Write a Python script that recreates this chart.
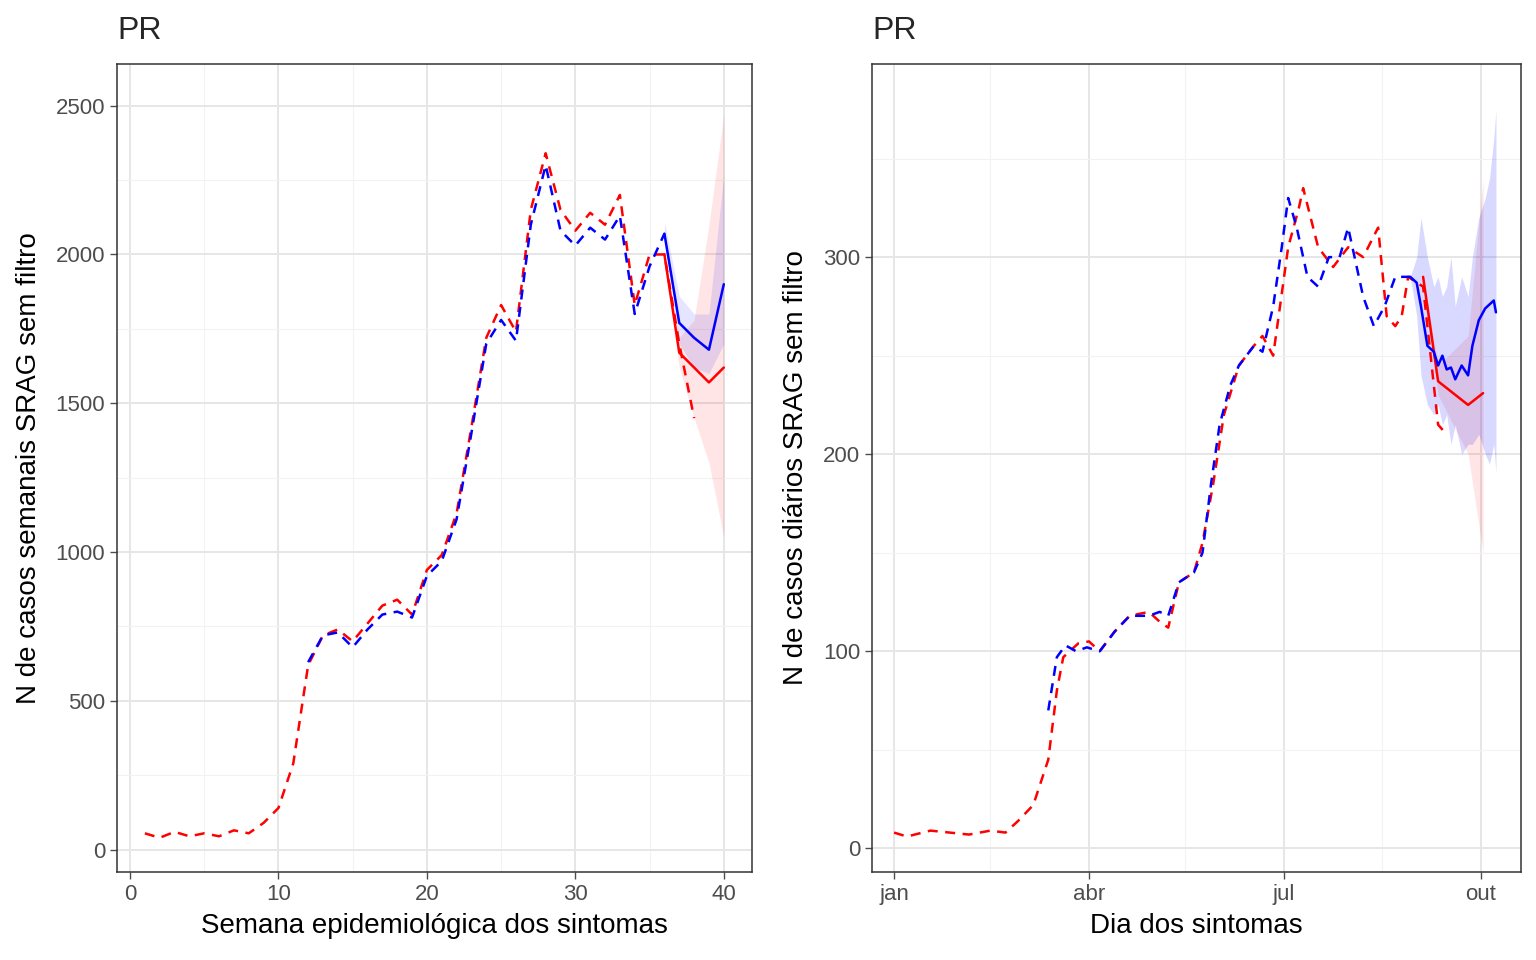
import numpy as np, pandas as pd, seaborn as sns, matplotlib
matplotlib.use("Agg")
import matplotlib.pyplot as plt

# ---- left panel (weekly) ----
red_dash_wk = list(range(1, 39))
red_dash_val = [55,40,60,45,55,45,65,55,90,140,290,620,720,740,700,760,820,840,790,940,990,1130,1420,1720,1830,1740,2150,2340,2150,2080,2140,2100,2200,1830,2000,2000,1700,1450]
blue_dash_wk = list(range(12, 37))
blue_dash_val = [630,720,730,680,740,790,800,780,920,970,1110,1400,1700,1780,1710,2100,2300,2080,2030,2090,2050,2130,1800,1960,2070]
now_wk = [36,37,38,39,40]
blue_now = [2070,1770,1720,1680,1900]
blue_lo = [2070,1700,1620,1600,1700]
blue_hi = [2110,1860,1800,1800,2270]
red_now = [2000,1670,1620,1570,1620]
red_lo = [2000,1620,1450,1300,1050]
red_hi = [2000,1720,1780,2100,2470]

# ---- right panel (daily, days since 2020-01-01) ----
r_red_dash_d = [0,6,17,26,35,45,52,58,65,72,76,79,86,91,96,103,110,119,124,128,133,140,144,149,154,161,168,172,177,184,189,191,198,205,212,219,226,230,234,237,240,247,254,258]
r_red_dash_v = [8,6,9,8,7,9,8,14,22,45,80,97,104,105,100,110,118,120,115,112,135,140,155,185,220,245,255,260,250,305,325,335,305,295,305,300,315,270,265,270,290,285,215,210]
r_blue_dash_d = [72,76,80,85,90,96,103,110,119,124,128,133,140,144,148,152,157,161,168,172,177,181,184,188,193,198,203,208,212,215,219,224,229,234,239,241]
r_blue_dash_v = [70,97,103,100,102,100,110,118,118,120,118,135,140,150,185,215,235,245,255,252,275,305,330,315,290,285,300,300,315,300,280,265,275,290,290,290]
r_blue_now_d = [241,244,246,249,252,254,256,258,260,262,265,268,270,273,276,278,280,281]
r_blue_now_v = [290,287,275,255,252,245,250,243,244,238,245,240,255,268,274,276,278,272]
r_blue_lo = [290,270,240,225,220,225,215,220,205,215,200,205,205,210,200,195,205,190]
r_blue_hi = [290,300,320,300,285,290,280,285,300,275,290,280,300,320,330,340,360,375]
r_red_now_d = [247,254,268,275]
r_red_now_v = [290,237,225,231]
r_red_lo = [290,230,200,150]
r_red_hi = [290,245,260,340]

sns.set_theme(style="whitegrid")
plt.rcParams['font.family'] = ['Liberation Sans', 'DejaVu Sans']
fig = plt.figure(figsize=(15.36, 9.6), dpi=100)
W, H = 1536, 960
ax1 = fig.add_axes([117/W, 1-872/H, (752-117)/W, (872-64)/H])
ax2 = fig.add_axes([872/W, 1-872/H, (1521-872)/W, (872-64)/H])

def style(ax):
    ax.set_facecolor("white")
    for s in ax.spines.values():
        s.set_color("#333333"); s.set_linewidth(1.1)
    ax.grid(True, which="major", color="#e6e6e6", lw=1.4)
    ax.grid(True, which="minor", color="#f2f2f2", lw=0.8)
    ax.tick_params(axis="both", which="major", labelsize=16, colors="#4d4d4d", length=5, width=1, bottom=True, left=True, direction="out")
    ax.tick_params(which="minor", length=0)

# left
sns.lineplot(x=red_dash_wk, y=red_dash_val, ax=ax1, color="red", lw=1.8, linestyle=(0,(4,3)))
sns.lineplot(x=blue_dash_wk, y=blue_dash_val, ax=ax1, color="blue", lw=1.8, linestyle=(0,(4,3)))
ax1.fill_between(now_wk, red_lo, red_hi, color="red", alpha=0.1, lw=0)
ax1.fill_between(now_wk, blue_lo, blue_hi, color="blue", alpha=0.1, lw=0)
sns.lineplot(x=now_wk, y=red_now, ax=ax1, color="red", lw=1.8)
sns.lineplot(x=now_wk, y=blue_now, ax=ax1, color="blue", lw=1.8)
ax1.set_xlim(-0.875, 41.9)
ax1.set_ylim(-75, 2640)
ax1.set_xticks([0,10,20,30,40]); ax1.set_xticks([5,15,25,35], minor=True)
ax1.set_yticks([0,500,1000,1500,2000,2500]); ax1.set_yticks([250,750,1250,1750,2250], minor=True)
style(ax1)
ax1.set_xlabel("Semana epidemiológica dos sintomas", fontsize=20, color="black", labelpad=6)
ax1.set_ylabel("N de casos semanais SRAG sem filtro", fontsize=20, color="black", labelpad=10)
ax1.set_title("PR", loc="left", fontsize=23, pad=18)

# right
base = pd.Timestamp("2020-01-01")
td = lambda d: base + pd.to_timedelta(d, unit="D")
sns.lineplot(x=td(r_red_dash_d), y=r_red_dash_v, ax=ax2, color="red", lw=1.8, linestyle=(0,(4,3)))
sns.lineplot(x=td(r_blue_dash_d), y=r_blue_dash_v, ax=ax2, color="blue", lw=1.8, linestyle=(0,(4,3)))
ax2.fill_between(td(r_red_now_d), r_red_lo, r_red_hi, color="red", alpha=0.1, lw=0)
ax2.fill_between(td(r_blue_now_d), r_blue_lo, r_blue_hi, color="blue", alpha=0.15, lw=0)
sns.lineplot(x=td(r_red_now_d), y=r_red_now_v, ax=ax2, color="red", lw=1.8)
sns.lineplot(x=td(r_blue_now_d), y=r_blue_now_v, ax=ax2, color="blue", lw=1.8)
ax2.set_xlim(td(-10.3), td(292.7))
ax2.set_ylim(-12, 398)
ax2.set_xticks([pd.Timestamp(s) for s in ["2020-01-01","2020-04-01","2020-07-01","2020-10-01"]])
ax2.set_xticklabels(["jan","abr","jul","out"])
ax2.set_xticks([pd.Timestamp(s) for s in ["2020-02-15","2020-05-16","2020-08-16"]], minor=True)
ax2.set_yticks([0,100,200,300]); ax2.set_yticks([50,150,250,350], minor=True)
style(ax2)
ax2.set_xlabel("Dia dos sintomas", fontsize=20, color="black", labelpad=6)
ax2.set_ylabel("N de casos diários SRAG sem filtro", fontsize=20, color="black", labelpad=10)
ax2.set_title("PR", loc="left", fontsize=23, pad=18)

fig.savefig("out.png", dpi=100)
